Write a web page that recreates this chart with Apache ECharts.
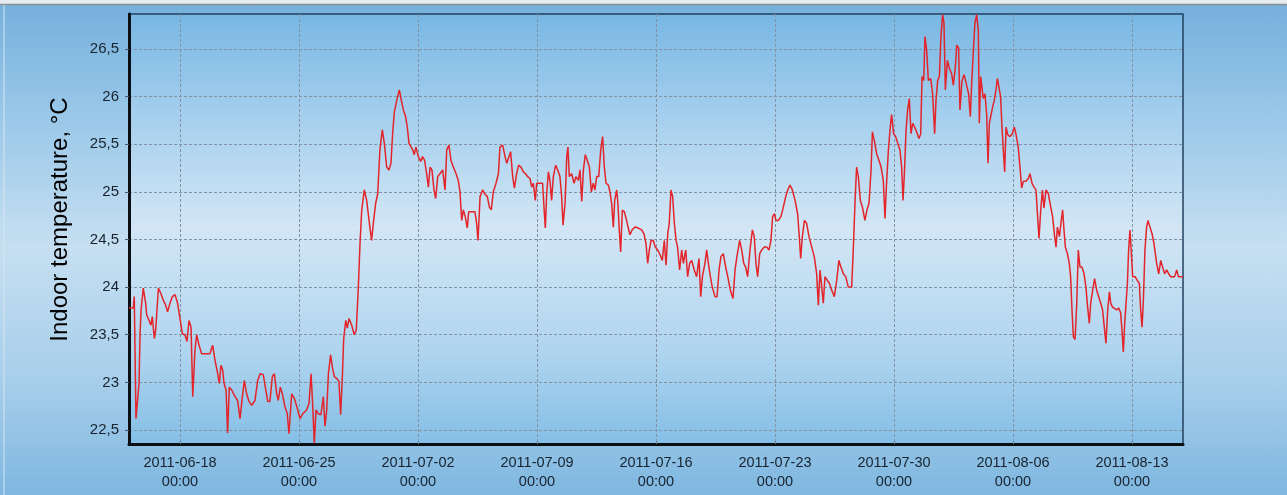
<!DOCTYPE html>
<html>
<head>
<meta charset="utf-8">
<script src="https://cdn.jsdelivr.net/npm/echarts@6/dist/echarts.min.js"></script>
<style>
  html, body { margin: 0; padding: 0; }
  #chart {
    width: 1287px; height: 495px;
    background: linear-gradient(to bottom, #74afdb 0%, #9cc9e9 25%, #c6dff1 50%, #a5cdea 78%, #7fb7e0 100%);
  }
</style>
</head>
<body>
<div id="chart"></div>
<script>
// measurement start, readings are day offsets from it
const startDate = Date.UTC(2011, 5, 15)
const DAY = 86400000

const dayOffsets = [
  0, 0.25, 0.31, 0.41, 0.51, 0.59, 0.65, 0.71, 0.84, 0.98, 1.04, 1.18, 1.29, 1.37, 1.49, 1.57, 1.73, 1.88, 2.02, 2.16,
  2.27, 2.41, 2.55, 2.71, 2.86, 3.0, 3.14, 3.29, 3.41, 3.53, 3.65, 3.75, 3.88, 3.98, 4.12, 4.27, 4.47, 4.76, 4.92, 5.06,
  5.22, 5.31, 5.41, 5.51, 5.59, 5.71, 5.8, 5.9, 6.04, 6.24, 6.39, 6.53, 6.67, 6.78, 6.92, 7.06, 7.22, 7.41, 7.57, 7.71,
  7.9, 8.0, 8.16, 8.29, 8.43, 8.55, 8.69, 8.78, 8.9, 9.02, 9.18, 9.31, 9.41, 9.57, 9.73, 9.88, 10.06, 10.22, 10.45, 10.59,
  10.71, 10.8, 10.9, 11.0, 11.14, 11.29, 11.43, 11.53, 11.63, 11.73, 11.86, 11.96, 12.08, 12.22, 12.35, 12.45, 12.55, 12.63, 12.75, 12.84,
  12.94, 13.1, 13.25, 13.37, 13.49, 13.59, 13.69, 13.84, 13.98, 14.14, 14.27, 14.39, 14.51, 14.63, 14.76, 14.9, 15.02, 15.16, 15.29, 15.41,
  15.51, 15.61, 15.75, 15.9, 16.0, 16.14, 16.27, 16.37, 16.47, 16.57, 16.69, 16.78, 16.88, 17.02, 17.16, 17.27, 17.39, 17.51, 17.61, 17.71,
  17.82, 17.94, 18.04, 18.16, 18.29, 18.45, 18.59, 18.69, 18.82, 18.94, 19.08, 19.24, 19.37, 19.47, 19.57, 19.67, 19.78, 19.9, 19.98, 20.16,
  20.35, 20.45, 20.53, 20.65, 20.8, 20.92, 21.08, 21.2, 21.31, 21.43, 21.59, 21.73, 21.82, 21.98, 22.12, 22.22, 22.33, 22.45, 22.57, 22.67,
  22.8, 22.92, 23.06, 23.2, 23.33, 23.45, 23.59, 23.69, 23.78, 23.9, 23.98, 24.18, 24.33, 24.41, 24.49, 24.57, 24.67, 24.76, 24.86, 24.96,
  25.1, 25.22, 25.35, 25.45, 25.53, 25.65, 25.75, 25.82, 25.9, 26.04, 26.18, 26.29, 26.43, 26.53, 26.63, 26.73, 26.84, 26.96, 27.08, 27.2,
  27.31, 27.41, 27.51, 27.63, 27.75, 27.86, 27.96, 28.06, 28.2, 28.29, 28.39, 28.49, 28.57, 28.69, 28.76, 28.84, 28.92, 29.02, 29.14, 29.27,
  29.37, 29.47, 29.59, 29.76, 29.96, 30.16, 30.29, 30.41, 30.51, 30.61, 30.71, 30.84, 30.96, 31.1, 31.24, 31.37, 31.49, 31.59, 31.69, 31.78,
  31.88, 31.98, 32.08, 32.18, 32.27, 32.39, 32.51, 32.61, 32.75, 32.86, 32.98, 33.1, 33.25, 33.39, 33.53, 33.63, 33.73, 33.88, 33.98, 34.08,
  34.2, 34.31, 34.47, 34.59, 34.71, 34.82, 34.96, 35.1, 35.22, 35.37, 35.53, 35.65, 35.76, 35.92, 36.04, 36.16, 36.27, 36.39, 36.53, 36.67,
  36.78, 36.88, 36.98, 37.1, 37.22, 37.37, 37.51, 37.65, 37.76, 37.86, 37.96, 38.06, 38.2, 38.35, 38.49, 38.63, 38.75, 38.88, 39.02, 39.18,
  39.33, 39.43, 39.51, 39.61, 39.73, 39.86, 40.0, 40.16, 40.31, 40.45, 40.55, 40.65, 40.75, 40.84, 40.94, 41.08, 41.2, 41.33, 41.49, 41.63,
  41.76, 41.88, 42.02, 42.16, 42.31, 42.51, 42.61, 42.71, 42.8, 42.9, 43.02, 43.14, 43.29, 43.41, 43.53, 43.65, 43.73, 43.84, 43.98, 44.12,
  44.24, 44.37, 44.47, 44.55, 44.67, 44.78, 44.86, 44.98, 45.1, 45.22, 45.35, 45.45, 45.53, 45.61, 45.71, 45.8, 45.9, 46.0, 46.1, 46.24,
  46.35, 46.47, 46.57, 46.65, 46.75, 46.82, 46.92, 47.02, 47.16, 47.27, 47.39, 47.47, 47.57, 47.67, 47.76, 47.86, 47.94, 48.02, 48.14, 48.25,
  48.39, 48.49, 48.61, 48.69, 48.8, 48.88, 49.0, 49.12, 49.27, 49.39, 49.49, 49.57, 49.67, 49.76, 49.86, 49.96, 50.02, 50.1, 50.18, 50.25,
  50.35, 50.45, 50.53, 50.61, 50.71, 50.8, 50.9, 51.0, 51.08, 51.2, 51.27, 51.35, 51.43, 51.51, 51.59, 51.69, 51.82, 51.96, 52.08, 52.18,
  52.31, 52.41, 52.51, 52.61, 52.76, 52.9, 53.0, 53.12, 53.24, 53.35, 53.45, 53.53, 53.63, 53.73, 53.82, 53.94, 54.08, 54.22, 54.33, 54.45,
  54.53, 54.61, 54.73, 54.84, 54.92, 55.0, 55.08, 55.2, 55.31, 55.39, 55.47, 55.55, 55.65, 55.75, 55.84, 55.94, 56.06, 56.18, 56.29, 56.39,
  56.49, 56.57, 56.69, 56.8, 56.92, 57.04, 57.16, 57.27, 57.37, 57.47, 57.57, 57.67, 57.75, 57.86, 57.96, 58.1, 58.22, 58.33, 58.41, 58.49,
  58.57, 58.65, 58.73, 58.8, 58.88, 58.96, 59.04, 59.18, 59.31, 59.43, 59.51, 59.59, 59.67, 59.76, 59.86, 59.94, 60.06, 60.18, 60.29, 60.45,
  60.57, 60.69, 60.8, 60.92, 61.04, 61.16, 61.27, 61.39, 61.51, 61.63, 61.73, 61.86, 62.0
]

const temps = [
  23.78, 23.78, 23.90, 22.62, 22.60, 22.99, 23.51, 23.76, 23.99, 23.83, 23.71, 23.65, 23.60, 23.69, 23.46, 23.55, 23.99, 23.93, 23.86, 23.81,
  23.74, 23.83, 23.90, 23.92, 23.83, 23.67, 23.51, 23.50, 23.43, 23.65, 23.58, 22.85, 23.34, 23.50, 23.39, 23.30, 23.30, 23.30, 23.39, 23.23,
  23.09, 22.99, 23.18, 23.13, 22.99, 22.92, 22.47, 22.95, 22.92, 22.85, 22.81, 22.62, 22.85, 23.02, 22.88, 22.80, 22.76, 22.81, 23.02, 23.09,
  23.08, 22.97, 22.80, 22.80, 23.06, 23.09, 22.88, 22.81, 22.95, 22.88, 22.74, 22.67, 22.46, 22.88, 22.83, 22.74, 22.62, 22.67, 22.71, 22.78,
  23.09, 22.78, 22.36, 22.71, 22.67, 22.66, 22.85, 22.54, 22.71, 23.09, 23.29, 23.16, 23.06, 23.04, 23.01, 22.66, 23.06, 23.46, 23.65, 23.57,
  23.67, 23.60, 23.50, 23.55, 24.00, 24.46, 24.81, 25.02, 24.91, 24.67, 24.49, 24.70, 24.88, 24.98, 25.44, 25.65, 25.51, 25.26, 25.23, 25.30,
  25.62, 25.84, 25.96, 26.07, 25.98, 25.86, 25.79, 25.68, 25.51, 25.49, 25.44, 25.39, 25.47, 25.37, 25.32, 25.37, 25.33, 25.19, 25.05, 25.26,
  25.23, 25.02, 24.93, 25.16, 25.19, 25.23, 25.02, 25.44, 25.49, 25.33, 25.26, 25.19, 25.12, 25.00, 24.70, 24.81, 24.74, 24.62, 24.79, 24.79,
  24.79, 24.67, 24.49, 24.95, 25.02, 24.98, 24.95, 24.84, 24.81, 25.00, 25.09, 25.19, 25.47, 25.49, 25.37, 25.30, 25.32, 25.42, 25.16, 25.04,
  25.19, 25.28, 25.26, 25.21, 25.19, 25.16, 25.14, 25.05, 25.09, 24.91, 25.09, 25.09, 25.09, 24.84, 24.62, 24.98, 25.21, 25.12, 24.91, 25.16,
  25.28, 25.23, 25.16, 24.95, 24.65, 24.88, 25.37, 25.47, 25.16, 25.19, 25.09, 25.16, 25.12, 25.23, 24.90, 25.23, 25.39, 25.33, 25.26, 25.00,
  25.09, 25.02, 25.16, 25.16, 25.44, 25.58, 25.26, 25.09, 25.07, 25.00, 24.88, 24.63, 24.91, 25.02, 24.88, 24.60, 24.37, 24.81, 24.79, 24.70,
  24.62, 24.55, 24.60, 24.63, 24.62, 24.60, 24.56, 24.46, 24.25, 24.39, 24.49, 24.49, 24.42, 24.39, 24.34, 24.28, 24.49, 24.23, 24.56, 24.67,
  25.02, 24.95, 24.67, 24.49, 24.42, 24.18, 24.39, 24.25, 24.39, 24.11, 24.25, 24.28, 24.18, 24.11, 24.30, 23.90, 24.11, 24.25, 24.39, 24.25,
  24.11, 24.00, 23.90, 23.90, 24.18, 24.32, 24.35, 24.21, 24.11, 23.97, 23.88, 24.18, 24.32, 24.49, 24.39, 24.25, 24.21, 24.11, 24.39, 24.60,
  24.53, 24.25, 24.11, 24.35, 24.39, 24.42, 24.42, 24.39, 24.49, 24.74, 24.77, 24.70, 24.70, 24.74, 24.84, 24.95, 25.02, 25.07, 25.02, 24.91,
  24.77, 24.53, 24.30, 24.53, 24.70, 24.67, 24.53, 24.42, 24.32, 24.14, 23.81, 24.18, 24.00, 23.83, 24.11, 24.07, 24.04, 23.97, 23.90, 24.07,
  24.28, 24.21, 24.14, 24.11, 24.00, 24.00, 24.42, 24.91, 25.26, 25.16, 24.91, 24.84, 24.70, 24.81, 24.88, 25.23, 25.63, 25.54, 25.40, 25.33,
  25.26, 25.12, 24.72, 25.05, 25.44, 25.68, 25.81, 25.61, 25.58, 25.51, 25.44, 25.26, 24.91, 25.19, 25.65, 25.86, 25.98, 25.61, 25.72, 25.67,
  25.68, 25.56, 25.61, 26.21, 26.17, 26.63, 26.49, 26.17, 26.19, 26.03, 25.61, 25.96, 26.17, 26.21, 26.63, 26.86, 26.77, 26.07, 26.38, 26.30,
  26.24, 26.12, 26.31, 26.54, 26.51, 25.86, 26.17, 26.23, 26.12, 26.03, 25.79, 26.14, 26.49, 26.77, 26.86, 26.70, 25.72, 26.21, 26.19, 25.98,
  26.03, 25.82, 25.30, 25.72, 25.72, 25.89, 25.96, 26.07, 26.19, 26.07, 26.00, 25.68, 25.44, 25.21, 25.68, 25.60, 25.58, 25.61, 25.68, 25.60,
  25.47, 25.26, 25.04, 25.11, 25.11, 25.14, 25.19, 25.09, 25.05, 25.02, 24.74, 24.51, 24.81, 25.02, 24.83, 25.02, 24.98, 24.84, 24.74, 24.53,
  24.42, 24.63, 24.53, 24.70, 24.81, 24.60, 24.42, 24.35, 24.25, 24.11, 23.76, 23.48, 23.45, 23.83, 24.39, 24.21, 24.21, 24.14, 24.00, 23.79,
  23.62, 23.83, 23.97, 24.09, 23.97, 23.90, 23.83, 23.76, 23.58, 23.41, 23.76, 23.95, 23.83, 23.79, 23.81, 23.76, 23.78, 23.73, 23.55, 23.32,
  23.62, 23.83, 24.04, 24.39, 24.60, 24.35, 24.11, 24.11, 24.07, 24.04, 23.76, 23.58, 23.86, 24.39, 24.63, 24.70, 24.63, 24.56, 24.46, 24.25,
  24.14, 24.28, 24.21, 24.14, 24.18, 24.14, 24.11, 24.11, 24.11, 24.18, 24.11, 24.11, 24.11
]

// weekly x ticks (days from start) and y ticks
const xTickDays = [3, 10, 17, 24, 31, 38, 45, 52, 59]
const yTicks = [22.5, 23, 23.5, 24, 24.5, 25, 25.5, 26, 26.5]
const yName = 'Indoor temperature, °C'

const seriesData = dayOffsets.map((d, i) => [startDate + d * DAY, temps[i]])
const xTicks = xTickDays.map(d => startDate + d * DAY)

const pad = n => String(n).padStart(2, '0')
function fmtTime(v) {
  const t = new Date(v)
  return `${t.getUTCFullYear()}-${pad(t.getUTCMonth() + 1)}-${pad(t.getUTCDate())}\n${pad(t.getUTCHours())}:${pad(t.getUTCMinutes())}`
}

const chart = echarts.init(document.getElementById('chart'), null, { renderer: 'canvas' })

const textColor = '#18232f'
const gridStyle = { color: '#8393a3', type: [3, 2], width: 1 }

chart.setOption({
  animation: false,
  backgroundColor: 'transparent',
  textStyle: { fontFamily: 'Liberation Sans, Arial, sans-serif' },
  grid: {
    left: 129, right: 104, top: 14, bottom: 51,
    show: true,
    borderColor: '#23405d',
    borderWidth: 1.5,
    backgroundColor: {
      type: 'linear', x: 0, y: 0, x2: 0, y2: 1,
      colorStops: [
        { offset: 0, color: '#78b7e3' },
        { offset: 0.25, color: '#a7d0ee' },
        { offset: 0.5, color: '#d2e6f5' },
        { offset: 0.78, color: '#b0d5ef' },
        { offset: 1, color: '#84bee6' },
      ],
    },
  },
  graphic: [
    { type: 'rect', shape: { x: 0, y: 0, width: 1287, height: 4 }, style: { fill: '#e6ebef' }, silent: true },
    { type: 'line', shape: { x1: 0, y1: 4.5, x2: 1287, y2: 4.5 }, style: { stroke: '#8c8f93', lineWidth: 1.5 }, silent: true },
    { type: 'line', shape: { x1: 4, y1: 5, x2: 4, y2: 495 }, style: { stroke: '#d6e6f2', lineWidth: 1 }, silent: true },
  ],
  xAxis: {
    type: 'value',
    min: startDate,
    max: startDate + 62 * DAY,
    axisLine: { show: true, lineStyle: { color: '#0b0f14', width: 3 } },
    axisTick: { show: true, customValues: xTicks, length: 3, inside: true, lineStyle: { color: '#6d8192' } },
    axisLabel: {
      customValues: xTicks,
      formatter: fmtTime,
      color: textColor,
      fontSize: 14.5,
      lineHeight: 19,
      margin: 9,
      hideOverlap: false,
    },
    splitLine: { show: true, lineStyle: gridStyle },
  },
  yAxis: {
    type: 'value',
    min: 22.353,
    max: 26.867,
    name: yName,
    nameLocation: 'middle',
    nameGap: 57,
    nameTextStyle: { color: '#000', fontSize: 24, padding: [0, 0, 0, 19] },
    axisLine: { show: true, lineStyle: { color: '#0b0f14', width: 3 } },
    axisTick: { show: true, customValues: yTicks, length: 4, lineStyle: { color: '#4a5a6a' } },
    axisLabel: {
      customValues: yTicks,
      formatter: v => String(v).replace('.', ','),
      color: textColor,
      fontSize: 15,
      margin: 10,
    },
    splitLine: { show: true, lineStyle: gridStyle },
  },
  series: [{
    type: 'line',
    data: seriesData,
    showSymbol: false,
    symbol: 'none',
    lineStyle: { color: '#e3252b', width: 1.5 },
  }],
})
</script>
</body>
</html>
